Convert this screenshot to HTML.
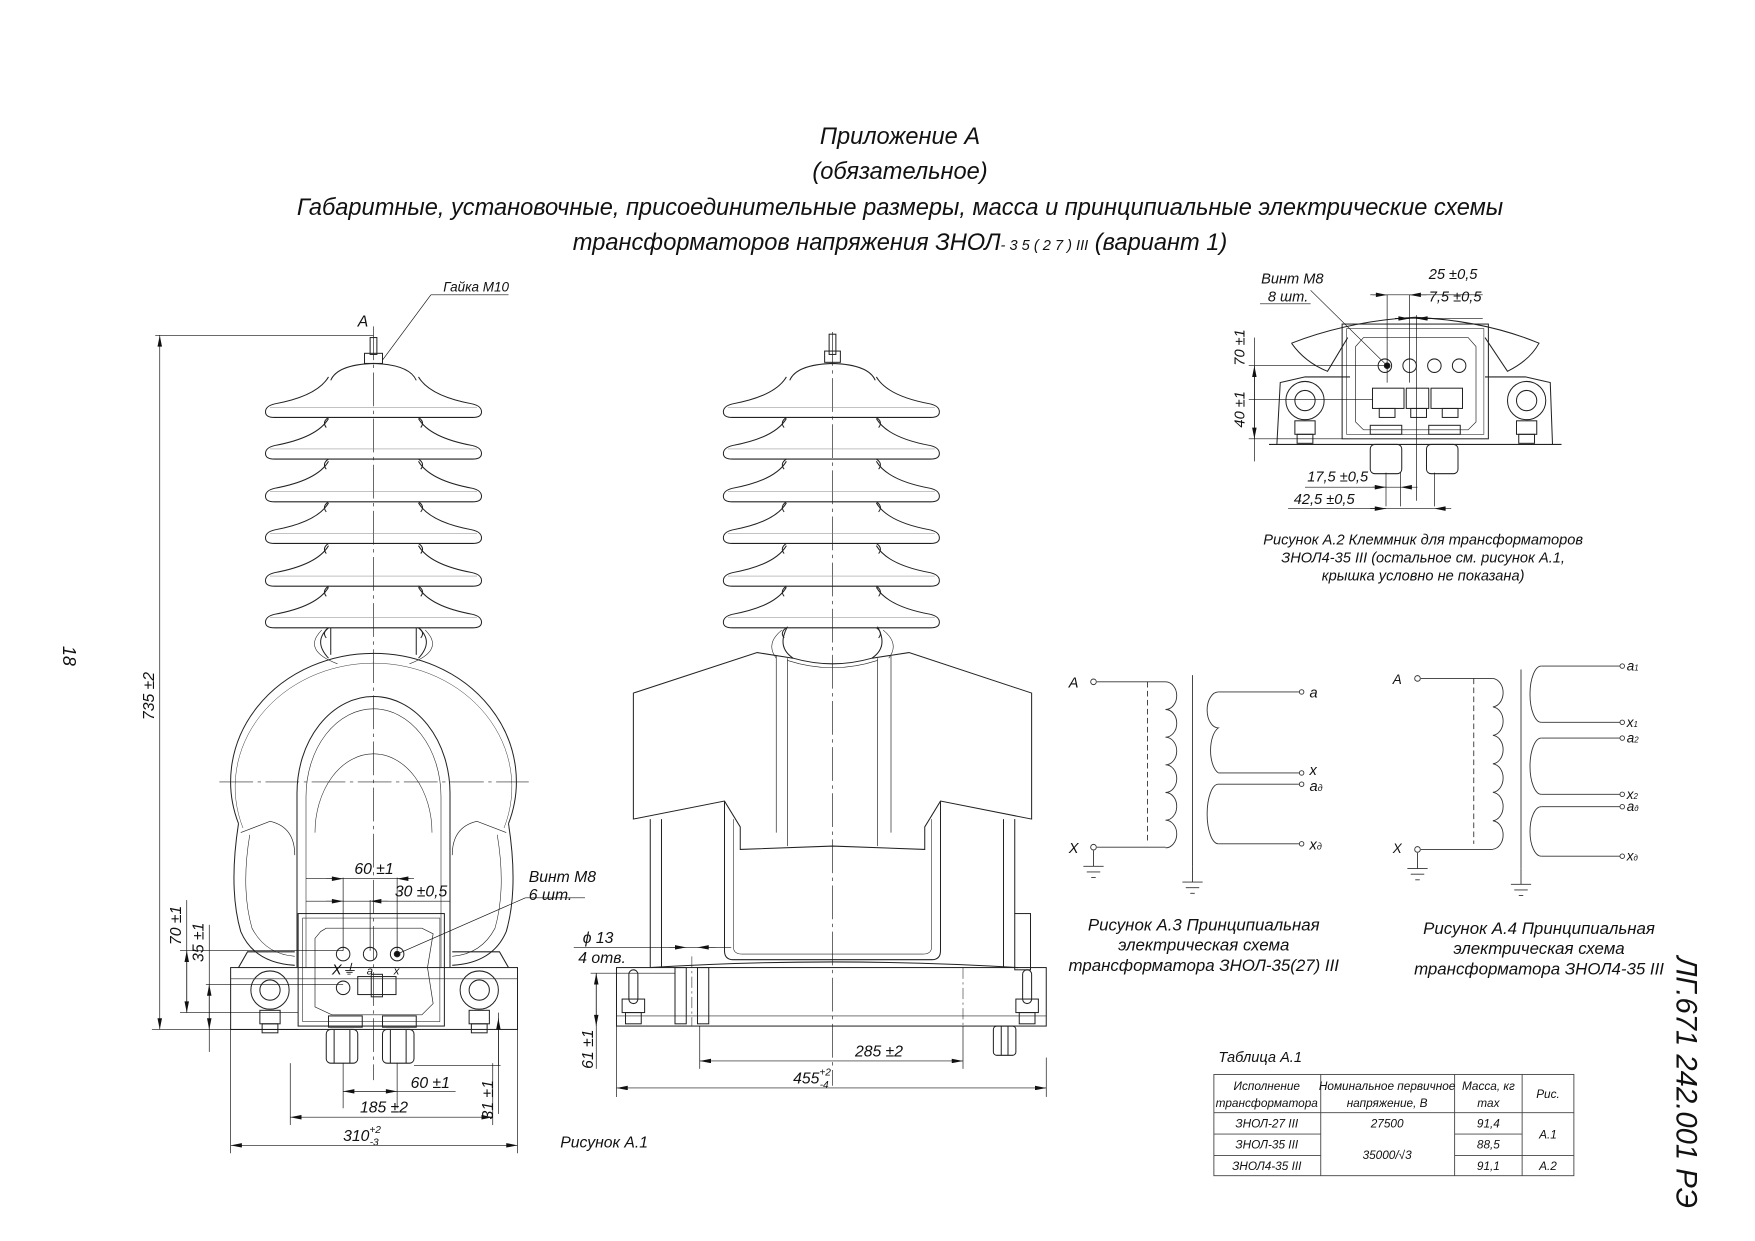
<!DOCTYPE html>
<html><head><meta charset="utf-8"><style>
html,body{margin:0;padding:0;background:#fff;}
svg{display:block;}
text{font-family:"Liberation Sans Narrow","Liberation Sans",sans-serif;font-style:italic;fill:#111;}
</style></head><body>
<svg width="1755" height="1241" viewBox="0 0 1560 1103" xmlns="http://www.w3.org/2000/svg">
<defs>
<marker id="ar" viewBox="0 0 10 4" refX="10" refY="2" markerWidth="12" markerHeight="4" markerUnits="userSpaceOnUse" orient="auto-start-reverse"><path d="M0,0 L10,2 L0,4z" fill="#111"/></marker>
<g id="shed">
<path d="M-40,-22 Q-50,-5 -88,2 Q-96,4 -96,9 Q-96,14 -88,14 L88,14 Q96,14 96,9 Q96,4 88,2 Q50,-5 40,-22" fill="none" stroke="#222" stroke-width="0.9"/>
<path d="M-40,14 Q-46,18 -42,23 M40,14 Q46,18 42,23" fill="none" stroke="#222" stroke-width="0.9"/>
<line x1="-92" y1="5" x2="92" y2="5" stroke="#777" stroke-width="0.4"/>
</g>
<g id="eye"><circle r="17" fill="none" stroke="#222"/><circle r="9" fill="none" stroke="#222"/><rect x="-9" y="18" width="18" height="12" fill="none" stroke="#222"/><rect x="-7" y="30" width="14" height="8" fill="none" stroke="#222"/></g>
<g id="gnd"><line x1="0" y1="0" x2="0" y2="14" stroke="#333"/><line x1="-9" y1="14" x2="9" y2="14" stroke="#333"/><line x1="-6" y1="19" x2="6" y2="19" stroke="#333"/><line x1="-2" y1="24" x2="2" y2="24" stroke="#333"/></g>
</defs>

<g text-anchor="middle" font-size="21">
<text x="800" y="128">Приложение А</text>
<text x="800" y="159">(обязательное)</text>
<text x="800" y="191">Габаритные, установочные, присоединительные размеры, масса и принципиальные электрические схемы</text>
<text x="800" y="222">трансформаторов напряжения ЗНОЛ<tspan font-size="13">- 3 5 ( 2 7 )  III</tspan> (вариант 1)</text>
</g>
<text transform="translate(56,574) rotate(90)" font-size="16">18</text>
<text transform="translate(1490,850) rotate(90)" font-size="26">ЛГ.671 242.001 РЭ</text>

<g fill="none" stroke="#222" stroke-width="0.9">
<line x1="332" y1="290" x2="332" y2="960" stroke-dasharray="30,4,3,4" stroke-width="0.6"/>
<line x1="195" y1="695" x2="470" y2="695" stroke-dasharray="30,4,3,4" stroke-width="0.6"/>
<rect x="329" y="300" width="6" height="15"/><rect x="324" y="314" width="16" height="9"/>
<path d="M294,338 Q300,324 332,323 Q364,324 370,338"/>
<use href="#shed" x="332" y="357"/><use href="#shed" x="332" y="394"/><use href="#shed" x="332" y="432"/>
<use href="#shed" x="332" y="469"/><use href="#shed" x="332" y="507"/><use href="#shed" x="332" y="544"/>
<line x1="294" y1="558" x2="294" y2="582"/><line x1="370" y1="558" x2="370" y2="582"/>
<path d="M292,558 Q278,570 292,585 M372,558 Q386,570 372,585"/>
<path d="M286,560 Q268,578 300,590 M378,560 Q396,578 364,590" stroke-width="0.5"/>
<path d="M212,732 A127,114 0 1 1 452,732"/>
<path d="M216,736 A123,110 0 1 1 448,736" stroke-width="0.4"/>
<path d="M212,732 Q203,790 214,828 Q226,856 262,858"/>
<path d="M452,732 Q461,790 450,828 Q438,856 402,858"/>
<path d="M222,742 Q214,790 224,825 Q236,848 262,850 M442,742 Q450,790 440,825 Q428,848 402,850" stroke-width="0.5"/>
<path d="M214,740 L240,730 Q262,735 262,760 M450,740 L424,730 Q402,735 402,760" stroke-width="0.6"/>
<path d="M264,860 L264,705 A68,86 0 0 1 400,705 L400,860"/>
<path d="M272,860 L272,708 A60,78 0 0 1 392,708 L392,860" stroke-width="0.5"/>
<path d="M280,740 A52,70 0 0 1 384,740" stroke-width="0.5"/>
<rect x="205" y="860" width="255" height="55"/>
<line x1="205" y1="870" x2="460" y2="870" stroke-width="0.5"/>
<path d="M212,860 L220,846 L262,846 M452,860 L444,846 L402,846"/>
<use href="#eye" x="240" y="880"/><use href="#eye" x="426" y="880"/>
<rect x="265" y="812" width="130" height="100"/>
<rect x="269" y="816" width="122" height="92" stroke-width="0.5"/>
<path d="M285,828 L280,834 L280,895 L295,902 L375,902 L385,892 L380,860 L385,830 L375,825 L290,825z" stroke-width="0.6"/>
<circle cx="305" cy="848" r="6"/><circle cx="329" cy="848" r="6"/><circle cx="353" cy="848" r="6"/><circle cx="353" cy="848" r="2.5" fill="#111"/>
<circle cx="305" cy="878" r="6"/>
<rect x="318" y="868" width="34" height="16"/><rect x="330" y="866" width="10" height="20"/>
<rect x="292" y="903" width="30" height="10"/><rect x="340" y="903" width="30" height="10"/>
<rect x="290" y="915" width="28" height="30" rx="4"/><rect x="340" y="915" width="28" height="30" rx="4"/>
<line x1="297" y1="915" x2="297" y2="945"/><line x1="311" y1="915" x2="311" y2="945"/><line x1="347" y1="915" x2="347" y2="945"/><line x1="361" y1="915" x2="361" y2="945"/>
</g>
<g font-size="13"><text x="295" y="866">X⏚</text><text x="326" y="866" font-size="10">a</text><text x="350" y="866" font-size="10">x</text></g>

<g stroke="#111" stroke-width="0.6" fill="none">
<line x1="138" y1="298" x2="332" y2="298"/>
<line x1="142" y1="298" x2="142" y2="915" marker-start="url(#ar)" marker-end="url(#ar)"/>
<line x1="135" y1="915" x2="265" y2="915"/>
<line x1="160" y1="845" x2="305" y2="845"/><line x1="160" y1="900" x2="265" y2="900"/>
<line x1="183" y1="875" x2="305" y2="875"/>
<line x1="166" y1="800" x2="166" y2="900"/><line x1="166" y1="845" x2="166" y2="900" marker-start="url(#ar)" marker-end="url(#ar)"/>
<line x1="186" y1="822" x2="186" y2="935"/><line x1="186" y1="875" x2="186" y2="915" marker-start="url(#ar)" marker-end="url(#ar)"/>
<line x1="305" y1="780" x2="305" y2="845"/><line x1="353" y1="780" x2="353" y2="845"/><line x1="329" y1="800" x2="329" y2="845"/>
<line x1="272" y1="781" x2="365" y2="781"/><line x1="290" y1="781" x2="305" y2="781" marker-end="url(#ar)"/><line x1="368" y1="781" x2="353" y2="781" marker-end="url(#ar)"/>
<line x1="272" y1="801" x2="400" y2="801"/><line x1="290" y1="801" x2="305" y2="801" marker-end="url(#ar)"/><line x1="345" y1="801" x2="329" y2="801" marker-end="url(#ar)"/>
<line x1="305" y1="945" x2="305" y2="985"/><line x1="353" y1="945" x2="353" y2="985"/>
<line x1="305" y1="970" x2="405" y2="970"/><line x1="305" y1="970" x2="353" y2="970" marker-start="url(#ar)" marker-end="url(#ar)"/>
<line x1="258" y1="945" x2="258" y2="1000"/><line x1="438" y1="945" x2="438" y2="1000"/>
<line x1="258" y1="993" x2="438" y2="993" marker-start="url(#ar)" marker-end="url(#ar)"/>
<line x1="205" y1="915" x2="205" y2="1025"/><line x1="460" y1="915" x2="460" y2="1025"/>
<line x1="205" y1="1018" x2="460" y2="1018" marker-start="url(#ar)" marker-end="url(#ar)"/>
<line x1="368" y1="947" x2="445" y2="947"/>
<line x1="443" y1="900" x2="443" y2="990"/><line x1="443" y1="947" x2="443" y2="905" marker-end="url(#ar)"/>
<line x1="340" y1="320" x2="383" y2="262"/><line x1="383" y1="262" x2="452" y2="262"/>
<line x1="353" y1="848" x2="467" y2="798"/><line x1="467" y1="798" x2="520" y2="798"/>
</g>
<g font-size="14">
<text x="318" y="290">A</text>
<text x="394" y="259" font-size="12">Гайка М10</text>
<text transform="translate(137,640) rotate(-90)">735 ±2</text>
<text transform="translate(161,840) rotate(-90)">70 ±1</text>
<text transform="translate(181,855) rotate(-90)">35 ±1</text>
<text x="315" y="777">60 ±1</text><text x="351" y="797">30 ±0,5</text>
<text x="470" y="784">Винт М8</text><text x="470" y="800">6 шт.</text>
<text x="365" y="967">60 ±1</text><text x="320" y="989">185 ±2</text>
<text x="305" y="1014">310<tspan font-size="9" dy="-7">+2</tspan><tspan font-size="9" dx="-10" dy="11">-3</tspan></text>
<text transform="translate(438,995) rotate(-90)">31 ±1</text>
<text x="498" y="1020">Рисунок А.1</text>
</g>

<g fill="none" stroke="#222" stroke-width="0.9">
<line x1="740" y1="295" x2="740" y2="965" stroke-dasharray="30,4,3,4" stroke-width="0.6"/>
<rect x="737" y="297" width="6" height="18"/><rect x="733" y="312" width="14" height="10"/>
<path d="M702,338 Q708,324 740,323 Q772,324 778,338"/>
<use href="#shed" x="739" y="357"/><use href="#shed" x="739" y="394"/><use href="#shed" x="739" y="432"/>
<use href="#shed" x="739" y="469"/><use href="#shed" x="739" y="507"/><use href="#shed" x="739" y="544"/>
<path d="M700,557 Q690,575 705,585 M780,557 Q790,575 775,585"/>
<path d="M695,560 Q680,572 690,585 M785,560 Q800,572 790,585" stroke-width="0.5"/>
<path d="M563,616 L673,580 L705,585 Q740,595 775,585 L808,580 L917,616 L917,728 L836,712 L822,735 L822,755 L740,752 L658,755 L658,735 L644,712 L563,728z"/>
<line x1="690" y1="583" x2="690" y2="740" stroke-width="0.6"/><line x1="700" y1="585" x2="700" y2="752" stroke-width="0.6"/>
<line x1="780" y1="585" x2="780" y2="752" stroke-width="0.6"/><line x1="792" y1="583" x2="792" y2="740" stroke-width="0.6"/>
<path d="M700,587 Q740,600 780,587" stroke-width="0.5"/>
<path d="M644,712 L644,845 Q644,853 652,853 L828,853 Q836,853 836,845 L836,712"/>
<path d="M652,728 L652,842 Q652,848 660,848 L820,848 Q828,848 828,842 L828,728" stroke-width="0.5"/>
<line x1="578" y1="728" x2="578" y2="860"/><line x1="588" y1="728" x2="588" y2="860"/>
<line x1="892" y1="728" x2="892" y2="860"/><line x1="902" y1="728" x2="902" y2="812"/>
<rect x="902" y="812" width="14" height="50"/>
<path d="M578,860 Q740,850 905,860"/>
<rect x="548" y="860" width="382" height="52"/>
<line x1="548" y1="903" x2="930" y2="903" stroke-width="0.5"/>
<rect x="600" y="860" width="10" height="50"/><rect x="620" y="860" width="10" height="50"/>
<line x1="615" y1="850" x2="615" y2="912" stroke-dasharray="10,3,2,3" stroke-width="0.5"/>
<line x1="856" y1="860" x2="856" y2="912" stroke-dasharray="10,3,2,3" stroke-width="0.5"/>
<rect x="559" y="862" width="8" height="30" rx="4"/><rect x="553" y="888" width="20" height="12"/><rect x="556" y="900" width="14" height="10"/>
<rect x="909" y="862" width="8" height="30" rx="4"/><rect x="903" y="888" width="20" height="12"/><rect x="906" y="900" width="14" height="10"/>
<rect x="883" y="912" width="20" height="26" rx="3"/><line x1="890" y1="912" x2="890" y2="938"/><line x1="896" y1="912" x2="896" y2="938"/>
</g>
<g stroke="#111" stroke-width="0.6" fill="none">
<line x1="510" y1="842" x2="650" y2="842"/><line x1="595" y1="842" x2="610" y2="842" marker-end="url(#ar)"/><line x1="636" y1="842" x2="620" y2="842" marker-end="url(#ar)"/>
<line x1="525" y1="865" x2="600" y2="865"/>
<line x1="530" y1="865" x2="530" y2="950"/><line x1="530" y1="865" x2="530" y2="912" marker-start="url(#ar)" marker-end="url(#ar)"/>
<line x1="622" y1="912" x2="622" y2="950"/><line x1="856" y1="912" x2="856" y2="950"/>
<line x1="622" y1="943" x2="856" y2="943" marker-start="url(#ar)" marker-end="url(#ar)"/>
<line x1="548" y1="912" x2="548" y2="975"/><line x1="930" y1="940" x2="930" y2="975"/>
<line x1="548" y1="967" x2="930" y2="967" marker-start="url(#ar)" marker-end="url(#ar)"/>
</g>
<g font-size="14">
<text x="518" y="838">ϕ 13</text><text x="514" y="856">4 отв.</text>
<text transform="translate(527,950) rotate(-90)">61 ±1</text>
<text x="760" y="939">285 ±2</text>
<text x="705" y="963">455<tspan font-size="9" dy="-7">+2</tspan><tspan font-size="9" dx="-10" dy="11">-4</tspan></text>
</g>

<g fill="none" stroke="#222" stroke-width="0.9">
<path d="M1128,395 L1388,395 M1135,395 L1138,340 L1160,335 L1200,335 M1380,395 L1378,340 L1356,335 L1320,335"/>
<path d="M1148,305 Q1200,285 1258,282 Q1320,285 1368,305 Q1360,320 1340,330 L1320,300 M1148,305 Q1160,322 1180,330 L1198,300"/>
<rect x="1193" y="288" width="130" height="102"/><rect x="1197" y="292" width="122" height="94" stroke-width="0.5"/>
<path d="M1212,300 L1205,308 L1205,375 L1212,382 L1305,382 L1312,375 L1312,308 L1305,300z" stroke-width="0.6"/>
<circle cx="1231" cy="325" r="6"/><circle cx="1233" cy="325" r="2.5" fill="#111"/><circle cx="1253" cy="325" r="6"/><circle cx="1275" cy="325" r="6"/><circle cx="1297" cy="325" r="6"/>
<rect x="1220" y="345" width="28" height="18"/><rect x="1250" y="345" width="20" height="18"/><rect x="1272" y="345" width="28" height="18"/>
<rect x="1226" y="363" width="14" height="8"/><rect x="1254" y="363" width="14" height="8"/><rect x="1282" y="363" width="14" height="8"/>
<rect x="1218" y="378" width="28" height="8"/><rect x="1270" y="378" width="28" height="8"/>
<rect x="1218" y="395" width="28" height="26" rx="4"/><rect x="1268" y="395" width="28" height="26" rx="4"/>
<use href="#eye" x="1160" y="356"/><use href="#eye" x="1357" y="356"/>
</g>
<g stroke="#111" stroke-width="0.6" fill="none">
<line x1="1233" y1="262" x2="1233" y2="340"/><line x1="1253" y1="262" x2="1253" y2="340"/><line x1="1259" y1="280" x2="1259" y2="445"/>
<line x1="1220" y1="262" x2="1318" y2="262"/><line x1="1218" y1="262" x2="1233" y2="262" marker-end="url(#ar)"/><line x1="1268" y1="262" x2="1253" y2="262" marker-end="url(#ar)"/>
<line x1="1240" y1="283" x2="1318" y2="283"/><line x1="1240" y1="283" x2="1253" y2="283" marker-end="url(#ar)"/><line x1="1272" y1="283" x2="1259" y2="283" marker-end="url(#ar)"/>
<line x1="1110" y1="325" x2="1231" y2="325"/><line x1="1110" y1="355" x2="1220" y2="355"/><line x1="1110" y1="390" x2="1193" y2="390"/>
<line x1="1115" y1="300" x2="1115" y2="410"/><line x1="1115" y1="325" x2="1115" y2="390" marker-start="url(#ar)" marker-end="url(#ar)"/>
<line x1="1232" y1="420" x2="1232" y2="450"/><line x1="1245" y1="420" x2="1245" y2="450"/><line x1="1275" y1="420" x2="1275" y2="450"/>
<line x1="1160" y1="433" x2="1245" y2="433"/><line x1="1220" y1="433" x2="1232" y2="433" marker-end="url(#ar)"/><line x1="1260" y1="433" x2="1245" y2="433" marker-end="url(#ar)"/>
<line x1="1145" y1="452" x2="1275" y2="452"/><line x1="1218" y1="452" x2="1232" y2="452" marker-end="url(#ar)"/><line x1="1290" y1="452" x2="1275" y2="452" marker-end="url(#ar)"/>
<line x1="1165" y1="258" x2="1233" y2="325"/><line x1="1120" y1="270" x2="1165" y2="270"/>
</g>
<g font-size="13">
<text x="1121" y="252">Винт М8</text><text x="1127" y="268">8 шт.</text>
<text x="1270" y="248">25 ±0,5</text><text x="1270" y="268">7,5 ±0,5</text>
<text transform="translate(1106,325) rotate(-90)">70 ±1</text>
<text transform="translate(1106,380) rotate(-90)">40 ±1</text>
<text x="1162" y="428">17,5 ±0,5</text><text x="1150" y="448">42,5 ±0,5</text>
<g text-anchor="middle"><text x="1265" y="484">Рисунок А.2 Клеммник для трансформаторов</text><text x="1265" y="500">ЗНОЛ4-35 III (остальное см. рисунок А.1,</text><text x="1265" y="516">крышка условно не показана)</text></g>
</g>

<g fill="none" stroke="#333" stroke-width="0.8">
<circle cx="972" cy="606" r="2.5"/><line x1="975" y1="606" x2="1036" y2="606"/>
<path d="M1036,606 a10,12.3 0 0 1 0,24.6 a10,12.3 0 0 1 0,24.6 a10,12.3 0 0 1 0,24.6 a10,12.3 0 0 1 0,24.6 a10,12.3 0 0 1 0,24.6 a10,12.3 0 0 1 0,24.6"/>
<line x1="975" y1="753" x2="1036" y2="753"/><circle cx="972" cy="753" r="2.5"/>
<line x1="1020" y1="606" x2="1020" y2="748" stroke-dasharray="5,3"/>
<line x1="1060" y1="600" x2="1060" y2="770"/>
<use href="#gnd" x="972" y="756"/><use href="#gnd" x="1060" y="770"/>
<path d="M1083,615 a10,16 0 0 0 0,32 a10,21 0 0 0 0,40"/><line x1="1083" y1="615" x2="1155" y2="615"/><line x1="1083" y1="687" x2="1155" y2="687"/>
<path d="M1083,697 a10,26.5 0 0 0 0,53"/><line x1="1083" y1="697" x2="1155" y2="697"/><line x1="1083" y1="750" x2="1155" y2="750"/>
<circle cx="1157" cy="615" r="2"/><circle cx="1157" cy="687" r="2"/><circle cx="1157" cy="697" r="2"/><circle cx="1157" cy="750" r="2"/>
</g>
<g font-size="13">
<text x="950" y="611">A</text><text x="950" y="758">X</text>
<text x="1164" y="620">a</text><text x="1164" y="689">x</text><text x="1164" y="703">a<tspan font-size="8">д</tspan></text><text x="1164" y="755">x<tspan font-size="8">д</tspan></text>
<g text-anchor="middle" font-size="15"><text x="1070" y="827">Рисунок А.3 Принципиальная</text><text x="1070" y="845">электрическая схема</text><text x="1070" y="863">трансформатора ЗНОЛ-35(27) III</text></g>
</g>

<g fill="none" stroke="#333" stroke-width="0.8">
<circle cx="1260" cy="603" r="2.5"/><line x1="1263" y1="603" x2="1327" y2="603"/>
<path d="M1327,603 a10,12.7 0 0 1 0,25.3 a10,12.7 0 0 1 0,25.3 a10,12.7 0 0 1 0,25.3 a10,12.7 0 0 1 0,25.3 a10,12.7 0 0 1 0,25.3 a10,12.7 0 0 1 0,25.3"/>
<line x1="1263" y1="755" x2="1327" y2="755"/><circle cx="1260" cy="755" r="2.5"/>
<line x1="1310" y1="603" x2="1310" y2="750" stroke-dasharray="5,3"/>
<line x1="1352" y1="595" x2="1352" y2="772"/>
<use href="#gnd" x="1260" y="758"/><use href="#gnd" x="1352" y="772"/>
<path d="M1370,592 a10,25 0 0 0 0,50"/><line x1="1370" y1="592" x2="1440" y2="592"/><line x1="1370" y1="642" x2="1440" y2="642"/>
<path d="M1370,656 a10,25 0 0 0 0,50"/><line x1="1370" y1="656" x2="1440" y2="656"/><line x1="1370" y1="706" x2="1440" y2="706"/>
<path d="M1370,717 a10,22 0 0 0 0,44"/><line x1="1370" y1="717" x2="1440" y2="717"/><line x1="1370" y1="761" x2="1440" y2="761"/>
<circle cx="1442" cy="592" r="2"/><circle cx="1442" cy="642" r="2"/><circle cx="1442" cy="656" r="2"/><circle cx="1442" cy="706" r="2"/><circle cx="1442" cy="717" r="2"/><circle cx="1442" cy="761" r="2"/>
</g>
<g font-size="12">
<text x="1238" y="608">A</text><text x="1238" y="758">X</text>
<text x="1446" y="596">a<tspan font-size="7">1</tspan></text><text x="1446" y="646">x<tspan font-size="7">1</tspan></text>
<text x="1446" y="660">a<tspan font-size="7">2</tspan></text><text x="1446" y="710">x<tspan font-size="7">2</tspan></text>
<text x="1446" y="721">a<tspan font-size="7">д</tspan></text><text x="1446" y="765">x<tspan font-size="7">д</tspan></text>
<g text-anchor="middle" font-size="15"><text x="1368" y="830">Рисунок А.4 Принципиальная</text><text x="1368" y="848">электрическая схема</text><text x="1368" y="866">трансформатора ЗНОЛ4-35 III</text></g>
</g>

<text x="1083" y="944" font-size="13">Таблица А.1</text>
<g fill="none" stroke="#444" stroke-width="0.8">
<rect x="1079" y="955" width="320" height="90"/>
<line x1="1079" y1="989" x2="1399" y2="989"/>
<line x1="1079" y1="1008" x2="1174" y2="1008"/><line x1="1293" y1="1008" x2="1353" y2="1008"/>
<line x1="1079" y1="1027" x2="1174" y2="1027"/><line x1="1293" y1="1027" x2="1399" y2="1027"/>
<line x1="1174" y1="955" x2="1174" y2="1045"/><line x1="1293" y1="955" x2="1293" y2="1045"/><line x1="1353" y1="955" x2="1353" y2="1045"/>
</g>
<g font-size="10.5" text-anchor="middle">
<text x="1126" y="969">Исполнение</text><text x="1126" y="984">трансформатора</text>
<text x="1233" y="969">Номинальное первичное</text><text x="1233" y="984">напряжение, В</text>
<text x="1323" y="969">Масса, кг</text><text x="1323" y="984">max</text>
<text x="1376" y="976">Рис.</text>
<text x="1126" y="1002">ЗНОЛ-27 III</text><text x="1233" y="1002">27500</text><text x="1323" y="1002">91,4</text>
<text x="1126" y="1021">ЗНОЛ-35 III</text><text x="1323" y="1021">88,5</text><text x="1376" y="1012">А.1</text>
<text x="1233" y="1030">35000/√3</text>
<text x="1126" y="1040">ЗНОЛ4-35 III</text><text x="1323" y="1040">91,1</text><text x="1376" y="1040">А.2</text>
</g>
</svg>
</body></html>
